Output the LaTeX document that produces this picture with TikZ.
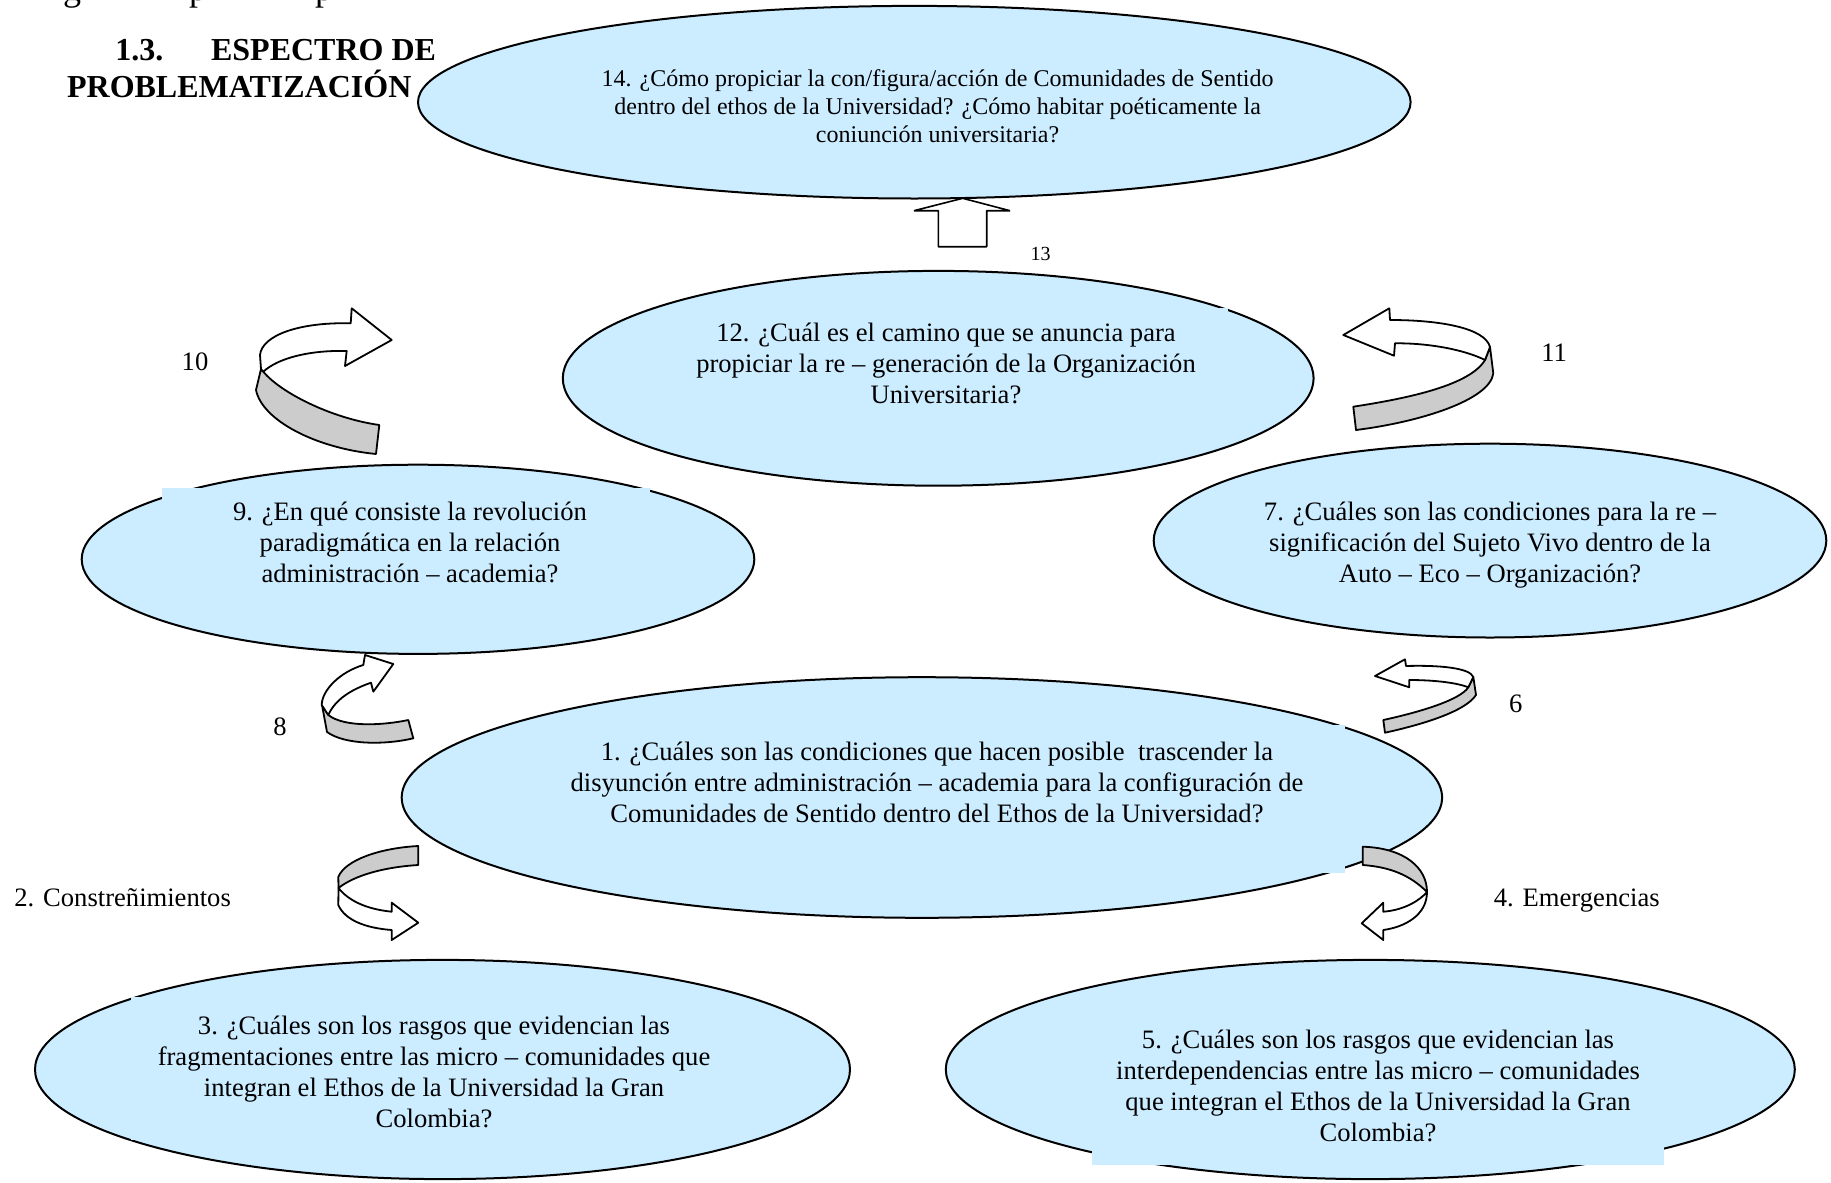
\documentclass[tikz,border=0pt]{standalone}
\usepackage{fontspec}
\setmainfont{Liberation Serif}
\usetikzlibrary{shapes.geometric}
\definecolor{bubblefill}{RGB}{204,236,255}
\definecolor{ribbongray}{RGB}{204,204,204}
\begin{document}
\begin{tikzpicture}[x=0.5pt,y=-0.5pt,
  bubble/.style={ellipse, draw=black, line width=1pt, fill=bubblefill, inner sep=0pt, outer sep=0pt},
  qtext/.style={align=center, inner sep=0pt, font=\fontsize{13.3}{15.5}\selectfont},
  qsmall/.style={align=center, inner sep=0pt, font=\fontsize{12}{14}\selectfont},
  lbl/.style={inner sep=0pt, font=\fontsize{13.3}{15.5}\selectfont},
  lblsmall/.style={inner sep=0pt, font=\fontsize{10}{12}\selectfont},
  cutglyph/.style={inner sep=0pt, anchor=base, font=\fontsize{18}{20}\selectfont},
  headtext/.style={inner sep=0pt, anchor=base west, font=\fontsize{16}{18}\selectfont\bfseries},
  face/.style={draw=black, line width=0.9pt, fill=white, line join=round},
  under/.style={draw=black, line width=0.9pt, fill=ribbongray, line join=round},
  tbox/.style={fill=bubblefill, draw=none}]
\useasboundingbox (0,0) rectangle (1831,1183);
\fill[white] (0,0) rectangle (1831,1183);

% cut-off line of text at the very top (only descenders show)
\begin{scope}
\clip (0,0) rectangle (1831,40);
\node[cutglyph] (cg1) at (72,1) {g};
\node[cutglyph] (cg2) at (198,1) {p};
\node[cutglyph] (cg3) at (324,1) {p};
\end{scope}

% heading
\node[headtext] (h1) at (115,61) {1.3.};
\node[headtext] (h2) at (210.7,61) {ESPECTRO DE};
\node[headtext] (h3) at (66.7,97.3) {PROBLEMATIZACIÓN};

% ellipses
\node[bubble, minimum width=496.3pt, minimum height=96.3pt] (e14) at (914.3,102.2) {};
\node[bubble, minimum width=375.4pt, minimum height=107.4pt] (e12) at (938.2,378.3) {};
\node[bubble, minimum width=336.3pt, minimum height=94.6pt] (e9) at (418,559.3) {};
\node[bubble, minimum width=336.3pt, minimum height=96.9pt] (e7) at (1490,540.6) {};
\node[bubble, minimum width=520.2pt, minimum height=120.3pt] (e1) at (921.9,797.5) {};
\node[bubble, minimum width=407.5pt, minimum height=109.6pt] (e3) at (442.5,1069.5) {};
\node[bubble, minimum width=424.5pt, minimum height=109.6pt] (e5) at (1370.3,1069.5) {};

% text boxes that hide parts of the outlines
\fill[tbox] (664,307.5) rectangle (1228,420);
\fill[tbox] (162,488) rectangle (650,610);
\fill[tbox] (529,724.5) rectangle (1345,872.5);
\fill[tbox] (131,996.5) rectangle (737,1140);
\fill[tbox] (1092,1000) rectangle (1664,1165);

% texts
\node[qsmall] (t14) at (937.6,106.3) {14. ¿Cómo propiciar la con/figura/acción de Comunidades de Sentido\\dentro del ethos de la Universidad? ¿Cómo habitar poéticamente la\\coniunción universitaria?};
\node[qtext] (t12) at (946,363.2) {12. ¿Cuál es el camino que se anuncia para\\propiciar la re – generación de la Organización\\Universitaria?};
\node[qtext] (t9) at (410,542.8) {9. ¿En qué consiste la revolución\\paradigmática en la relación\\administración – academia?};
\node[qtext] (t7) at (1490,545.2) {7. ¿Cuáles son las condiciones para la re –\\significación del Sujeto Vivo dentro de la\\Auto – Eco – Organización?};
\node[qtext] (t1) at (937,782.3) {1. ¿Cuáles son las condiciones que hacen posible\ \ trascender la\\disyunción entre administración – academia para la configuración de\\Comunidades de Sentido dentro del Ethos de la Universidad?};
\node[qtext] (t3) at (434,1071.8) {3. ¿Cuáles son los rasgos que evidencian las\\fragmentaciones entre las micro – comunidades que\\integran el Ethos de la Universidad la Gran\\Colombia?};
\node[qtext] (t5) at (1378,1085.8) {5. ¿Cuáles son los rasgos que evidencian las\\interdependencias entre las micro – comunidades\\que integran el Ethos de la Universidad la Gran\\Colombia?};

% up arrow 13
\draw[face, line width=0.8pt, line join=bevel] (938.3,246.7) -- (938.3,210.7) -- (914,210.7) -- (962.7,198.3) -- (1010,210.7) -- (986.7,210.7) -- (986.7,246.7) -- cycle;

% curved arrow 10
\draw[under] (261,369) -- (256,390) .. controls (262,420) and (315,448) .. (376,454) -- (379.3,425) .. controls (330,418) and (280,392) .. (263.3,371.7) -- cycle;
\draw[face] (350.7,323.3) -- (351.7,308.3) -- (391.7,340) -- (345,366) -- (346.7,351) .. controls (310,350) and (278,358) .. (263.3,371.7) -- (261,369) -- (260,355) .. controls (262,335) and (300,322) .. (350.7,323.3) -- cycle;

% curved arrow 11
\draw[under] (1490,347) -- (1493.3,373.3) .. controls (1490,400) and (1420,422) .. (1356,430) -- (1353.3,406.7) .. controls (1410,398) and (1470,385) .. (1485,360) -- cycle;
\draw[face] (1390,320) .. controls (1440,320) and (1485,328) .. (1490,347) -- (1485,360) .. controls (1465,350) and (1430,343) .. (1395,343.3) -- (1394,355.7) -- (1343.3,335) -- (1389.3,308.3) -- cycle;

% curved arrow 8
\draw[under] (322,705) -- (327,732) .. controls (345,745) and (385,745) .. (413.3,738.3) -- (408.3,720) .. controls (385,725) and (345,728) .. (328.3,715) -- cycle;
\draw[face] (363.3,665) .. controls (340,672) and (322,690) .. (321.7,705) -- (328.3,715) .. controls (335,700) and (350,690) .. (371,682.7) -- (373.3,691.7) -- (393.3,664) -- (365,655) -- cycle;

% curved arrow 6
\draw[under] (1473.3,677) -- (1476,695) .. controls (1465,712) and (1420,725) .. (1385,732.7) -- (1383.3,720) .. controls (1420,712) and (1460,700) .. (1468.3,687.3) -- cycle;
\draw[face] (1406,666) .. controls (1440,665) and (1470,668) .. (1473.3,677) -- (1468.3,687.3) .. controls (1455,682) and (1430,680) .. (1409.3,680) -- (1409.3,687.3) -- (1375,676) -- (1405,659.3) -- cycle;

% curved arrow 2
\draw[under] (418.3,846) .. controls (380,848) and (345,860) .. (338.3,877) -- (338.5,888) .. controls (355,875) and (385,867) .. (418.3,865) -- cycle;
\draw[face] (338.5,888) -- (338.3,905) .. controls (345,920) and (365,928) .. (391.7,930) -- (391.7,940) -- (418.3,922.7) -- (391.7,902.7) -- (391.7,911.7) .. controls (365,909) and (348,900) .. (338.5,888) -- cycle;

% curved arrow 4
\draw[under] (1362.7,846.7) .. controls (1405,848) and (1427,868) .. (1427,892) .. controls (1410,875) and (1390,867) .. (1362.7,865) -- cycle;
\draw[face] (1427,892) .. controls (1427,915) and (1405,927) .. (1383.3,930) -- (1383.3,940) -- (1361.7,923.3) -- (1383.3,902.7) -- (1383.3,911.7) .. controls (1405,910) and (1420,900) .. (1427,892) -- cycle;

% labels
\node[lbl] (l10) at (195,362) {10};
\node[lbl] (l11) at (1554.2,352.7) {11};
\node[lbl] (l8) at (280,726.3) {8};
\node[lbl] (l6) at (1515.7,704) {6};
\node[lblsmall] (l13) at (1040.7,254) {13};
\node[lbl, anchor=base west] (l2) at (14,906) {2. Constreñimientos};
\node[lbl, anchor=base west] (l4) at (1493.5,906) {4. Emergencias};
\end{tikzpicture}
\end{document}
